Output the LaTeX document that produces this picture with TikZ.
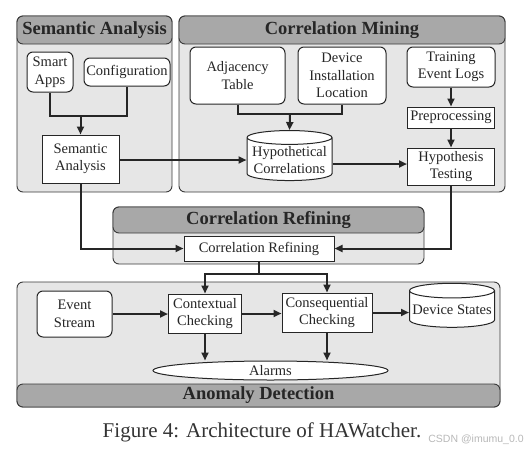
\documentclass[tikz,border=0pt]{standalone}
\usepackage{fontspec}
\setmainfont{Liberation Serif}
\newfontfamily\wmfont{Liberation Sans}
\usetikzlibrary{arrows.meta, shapes.geometric, positioning}

\definecolor{panelgray}{HTML}{E6E6E6}
\definecolor{headgray}{HTML}{A8A8A8}
\definecolor{edgegray}{HTML}{3A3A3A}

\tikzset{
  every node/.style={font=\fontsize{14.5}{17.5}\selectfont, text=black!85},
  panel/.style={draw=edgegray, line width=0.9pt, fill=panelgray, rounded corners=6pt},
  header/.style={draw=edgegray, line width=0.9pt, fill=headgray, rounded corners=6pt},
  headtext/.style={font=\bfseries\fontsize{18.5}{20}\selectfont, text=black!85},
  plainbox/.style={draw=black!85, line width=1pt, fill=white, align=center, inner sep=1pt},
  roundbox/.style={plainbox, rounded corners=6pt},
  store/.style={cylinder, shape border rotate=90, aspect=0.18, draw=black!85, line width=1pt,
    fill=white, align=center, inner sep=1pt},
  conn/.style={line width=2pt, draw=black!85},
  arr/.style={conn, -{Triangle[length=8pt, width=7pt]}}
}

\begin{document}
\begin{tikzpicture}[x=1pt, y=-1pt]
  \useasboundingbox (0,0) rectangle (528,453);

  % panels
  \draw [panel] (17,16) rectangle (172,192);
  \draw [header] (17,16) rectangle (172,44);
  \node [headtext] (semtitle) at (94.5,30) {Semantic Analysis};

  \draw [panel] (179,16) rectangle (505,192);
  \draw [header] (179,16) rectangle (505,44);
  \node [headtext] (minetitle) at (342,30) {Correlation Mining};

  \draw [panel] (113,207) rectangle (424,264);
  \draw [header] (113,207) rectangle (424,233);
  \node [headtext] (refinetitle) at (268.5,220) {Correlation Refining};

  \draw [panel] (17,282) rectangle (500,407);
  \draw [header] (17,384) rectangle (500,407);
  \node [headtext] (anomtitle) at (258.5,395.5) {Anomaly Detection};

  % semantic analysis
  \node [roundbox, minimum width=46, minimum height=40] (apps) at (50,72) {Smart\\Apps};
  \node [roundbox, minimum width=86, minimum height=28] (config) at (127,72) {Configuration};
  \node [plainbox, minimum width=77, minimum height=48] (sem) at (80.5,159) {Semantic\\Analysis};
  \coordinate (semjoin) at (80.5,116);

  % correlation mining
  \node [roundbox, minimum width=95, minimum height=57] (adj) at (237.5,75.5) {Adjacency\\Table};
  \node [roundbox, minimum width=88, minimum height=57] (loc) at (342,75.5) {Device\\Installation\\Location};
  \node [roundbox, minimum width=88, minimum height=40] (logs) at (451,67) {Training\\Event Logs};
  \node [plainbox, minimum width=87, minimum height=21] (prep) at (451,117.5) {Preprocessing};
  \node [plainbox, minimum width=87, minimum height=37] (test) at (451,166.5) {Hypothesis\\Testing};
  \node [store, minimum width=85, minimum height=50] (hypo) at (289.5,160) {Hypothetical\\Correlations};
  \coordinate (minejoin) at (290,114);

  % correlation refining
  \node [plainbox, minimum width=150, minimum height=25] (refine) at (259,248.5) {Correlation Refining};
  \coordinate (split) at (259,274);

  % anomaly detection
  \node [roundbox, minimum width=75, minimum height=46] (stream) at (74.5,314) {Event\\Stream};
  \node [plainbox, minimum width=73, minimum height=39] (ctx) at (205,313.5) {Contextual\\Checking};
  \node [plainbox, minimum width=90, minimum height=39] (cons) at (327,312.5) {Consequential\\Checking};
  \node [store, minimum width=85, minimum height=44] (states) at (452,310) {Device States};
  \node [ellipse, draw=black!85, line width=1pt, fill=white, inner sep=0pt,
    minimum width=235, minimum height=19] (alarms) at (270.5,370.5) {Alarms};

  % connectors
  \draw [conn] (apps.south) |- (semjoin) -| (config.south);
  \draw [arr] (semjoin) -- (sem.north);
  \draw [conn] (adj.south) |- (minejoin) -| (loc.south);
  \draw [arr] (minejoin) -- (hypo.north);
  \draw [arr] (sem.east |- hypo.west) -- (hypo.west);
  \draw [arr] ([yshift=-4pt]hypo.east) -- ([yshift=-4pt]hypo.east -| test.west);
  \draw [arr] (logs) -- (prep);
  \draw [arr] (prep) -- (test);

  \draw [arr] (sem.south) |- (refine.west);
  \draw [arr] (test.south) |- (refine.east);
  \draw [conn] (refine.south) -- (split);
  \draw [arr] (split) -| (ctx.north);
  \draw [arr] (split) -| (cons.north);

  \draw [arr] (stream.east) -- (stream.east -| ctx.west);
  \draw [arr] (ctx.east) -- (ctx.east -| cons.west);
  \draw [arr] (cons.east) -- (cons.east -| states.west);
  \draw [arr] (ctx.south) -- (ctx.south |- alarms.north);
  \draw [arr] (cons.south) -- (cons.south |- alarms.north);

  % caption
  \node [font=\fontsize{21}{23}\selectfont, text=black!80] (caption) at (262,432) {Figure 4: Architecture of HAWatcher.};
  \node [font=\wmfont\fontsize{10.5}{12}\selectfont, text=gray!70, opacity=0.8] (mark) at (476,440) {CSDN @imumu\_0.0};
\end{tikzpicture}
\end{document}
